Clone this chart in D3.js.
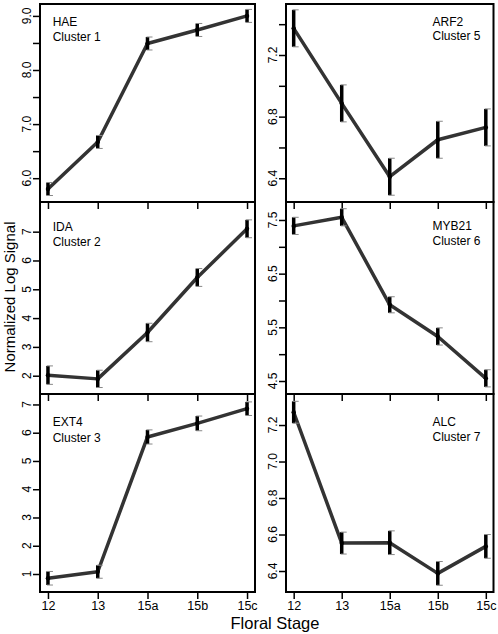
<!DOCTYPE html>
<html>
<head>
<meta charset="utf-8">
<script src="https://cdn.jsdelivr.net/npm/d3@7"></script>
<style>
  html, body { margin: 0; padding: 0; background: #fff; }
  svg { display: block; }
  text { font-family: "Liberation Sans", Arial, Helvetica, sans-serif; fill: #000; }
</style>
</head>
<body>
<svg id="chart" width="498" height="634"></svg>
<script>
// ---- data ----
const stages = ["12", "13", "15a", "15b", "15c"];
const genes = ["HAE", "IDA", "EXT4", "ARF2", "MYB21", "ALC"];
const clusters = ["Cluster 1", "Cluster 2", "Cluster 3", "Cluster 5", "Cluster 6", "Cluster 7"];

const haeMean  = [5.80, 6.67, 8.49, 8.74, 9.00];
const haeErr   = [0.12, 0.12, 0.12, 0.12, 0.12];
const idaMean  = [2.02, 1.89, 3.50, 5.41, 7.10];
const idaErr   = [0.32, 0.30, 0.32, 0.31, 0.31];
const ext4Mean = [0.85, 1.08, 5.85, 6.33, 6.85];
const ext4Err  = [0.24, 0.23, 0.25, 0.26, 0.24];
const arf2Mean = [7.373, 6.886, 6.41, 6.65, 6.73];
const arf2Err  = [0.12, 0.12, 0.12, 0.12, 0.12];
const myb21Mean = [7.39, 7.55, 5.92, 5.33, 4.55];
const myb21Err  = [0.16, 0.16, 0.15, 0.16, 0.16];
const alcMean  = [7.27, 6.553, 6.555, 6.387, 6.535];
const alcErr   = [0.06, 0.06, 0.065, 0.065, 0.065];

// y tick values (all ticks) and which get labels
const haeTicks = [6.0, 6.5, 7.0, 7.5, 8.0, 8.5, 9.0];
const haeLabels = [6.0, 7.0, 8.0, 9.0];
const idaTicks = [2, 3, 4, 5, 6, 7];
const ext4Ticks = [1, 2, 3, 4, 5, 6, 7];
const arf2Ticks = [6.4, 6.6, 6.8, 7.0, 7.2, 7.4];
const arf2Labels = [6.4, 6.8, 7.2];
const myb21Ticks = [4.5, 5.0, 5.5, 6.0, 6.5, 7.0, 7.5];
const myb21Labels = [4.5, 5.5, 6.5, 7.5];
const alcTicks = [6.4, 6.6, 6.8, 7.0, 7.2];

const yLabel = "Normalized Log Signal";
const xLabel = "Floral Stage";

// ---- layout ----
const cols = [[40, 255], [286, 493.5]];
const rows = [[4, 202], [202, 394], [394, 592]];
const panels = [
  {mean: haeMean, err: haeErr, ticks: haeTicks, labels: haeLabels, fmt: d3.format(".1f"), dom: [5.56, 9.22], col: 0, row: 0, lab: [21.5, 36.5]},
  {mean: idaMean, err: idaErr, ticks: idaTicks, labels: idaTicks, fmt: d3.format("d"), dom: [1.365, 8.03], col: 0, row: 1, lab: [28.5, 44]},
  {mean: ext4Mean, err: ext4Err, ticks: ext4Ticks, labels: ext4Ticks, fmt: d3.format("d"), dom: [0.363, 7.37], col: 0, row: 2, lab: [32, 47.5]},
  {mean: arf2Mean, err: arf2Err, ticks: arf2Ticks, labels: arf2Labels, fmt: d3.format(".1f"), dom: [6.246, 7.531], col: 1, row: 0, lab: [21.5, 36]},
  {mean: myb21Mean, err: myb21Err, ticks: myb21Ticks, labels: myb21Labels, fmt: d3.format(".1f"), dom: [4.258, 7.835], col: 1, row: 1, lab: [27.5, 43]},
  {mean: alcMean, err: alcErr, ticks: alcTicks, labels: alcTicks, fmt: d3.format(".1f"), dom: [6.285, 7.37], col: 1, row: 2, lab: [31.5, 46.5]}
];
const labelX = [12.7, 146.5];

const svg = d3.select("#chart");

panels.forEach((p, i) => {
  const [x0, x1] = cols[p.col];
  const [y0, y1] = rows[p.row];
  const x = d3.scaleLinear().domain([0.84, 5.16]).range([x0, x1]);
  const y = d3.scaleLinear().domain(p.dom).range([y1, y0]);
  const g = svg.append("g");

  // x axis ticks (bottom)
  const xAxis = d3.axisBottom(x).tickValues([1, 2, 3, 4, 5]).tickSize(7).tickPadding(2)
    .tickFormat(p.row === 2 ? (d => stages[d - 1]) : "");
  const xg = g.append("g").attr("transform", `translate(0,${y1})`).call(xAxis);
  xg.select(".domain").remove();
  xg.selectAll("line").attr("stroke", "#000").attr("stroke-width", 1.5);
  xg.selectAll("text").attr("font-size", 12.5).attr("font-family", "Liberation Sans, Arial, sans-serif").attr("fill", "#000");

  // y axis ticks
  const yAxis = d3.axisLeft(y).tickValues(p.ticks).tickSize(7).tickFormat("");
  const yg = g.append("g").attr("transform", `translate(${x0},0)`).call(yAxis);
  yg.select(".domain").remove();
  yg.selectAll("line").attr("stroke", "#000").attr("stroke-width", 1.5);
  // rotated y labels
  g.selectAll("text.ylab").data(p.labels).enter().append("text")
    .attr("class", "ylab")
    .attr("transform", d => `translate(${x0 - 9},${y(d)}) rotate(-90)`)
    .attr("text-anchor", "middle")
    .attr("font-size", 12)
    .text(d => p.fmt(d));

  // box
  g.append("rect").attr("x", x0).attr("y", y0).attr("width", x1 - x0).attr("height", y1 - y0)
    .attr("fill", "none").attr("stroke", "#000").attr("stroke-width", 2);

  // line
  const line = d3.line().x((d, k) => x(k + 1)).y(d => y(d));
  g.append("path").datum(p.mean).attr("d", line)
    .attr("fill", "none").attr("stroke", "#333").attr("stroke-width", 3.5).attr("stroke-linejoin", "round");

  // error bars
  const eb = g.selectAll("g.eb").data(p.mean).enter().append("g").attr("class", "eb");
  eb.append("line")
    .attr("x1", (d, k) => x(k + 1)).attr("x2", (d, k) => x(k + 1))
    .attr("y1", (d, k) => y(d + p.err[k])).attr("y2", (d, k) => y(d - p.err[k]))
    .attr("stroke", "#000").attr("stroke-width", 3.5);
  [1, -1].forEach(s => {
    eb.append("line")
      .attr("x1", (d, k) => x(k + 1) - 1).attr("x2", (d, k) => x(k + 1) + 5)
      .attr("y1", (d, k) => y(d + s * p.err[k])).attr("y2", (d, k) => y(d + s * p.err[k]))
      .attr("stroke", "#888").attr("stroke-width", 1);
  });
  eb.append("circle").attr("cx", (d, k) => x(k + 1)).attr("cy", d => y(d)).attr("r", 2.2).attr("fill", "#000");

  // panel labels
  g.append("text").attr("x", x0 + labelX[p.col]).attr("y", y0 + p.lab[0]).attr("font-size", 12).text(genes[i]);
  g.append("text").attr("x", x0 + labelX[p.col]).attr("y", y0 + p.lab[1]).attr("font-size", 12).text(clusters[i]);
});

// axis titles
svg.append("text").attr("transform", "translate(15,297) rotate(-90)")
  .attr("text-anchor", "middle").attr("font-size", 15).text(yLabel);
svg.append("text").attr("x", 275).attr("y", 629)
  .attr("text-anchor", "middle").attr("font-size", 16.5).text(xLabel);
</script>
</body>
</html>
